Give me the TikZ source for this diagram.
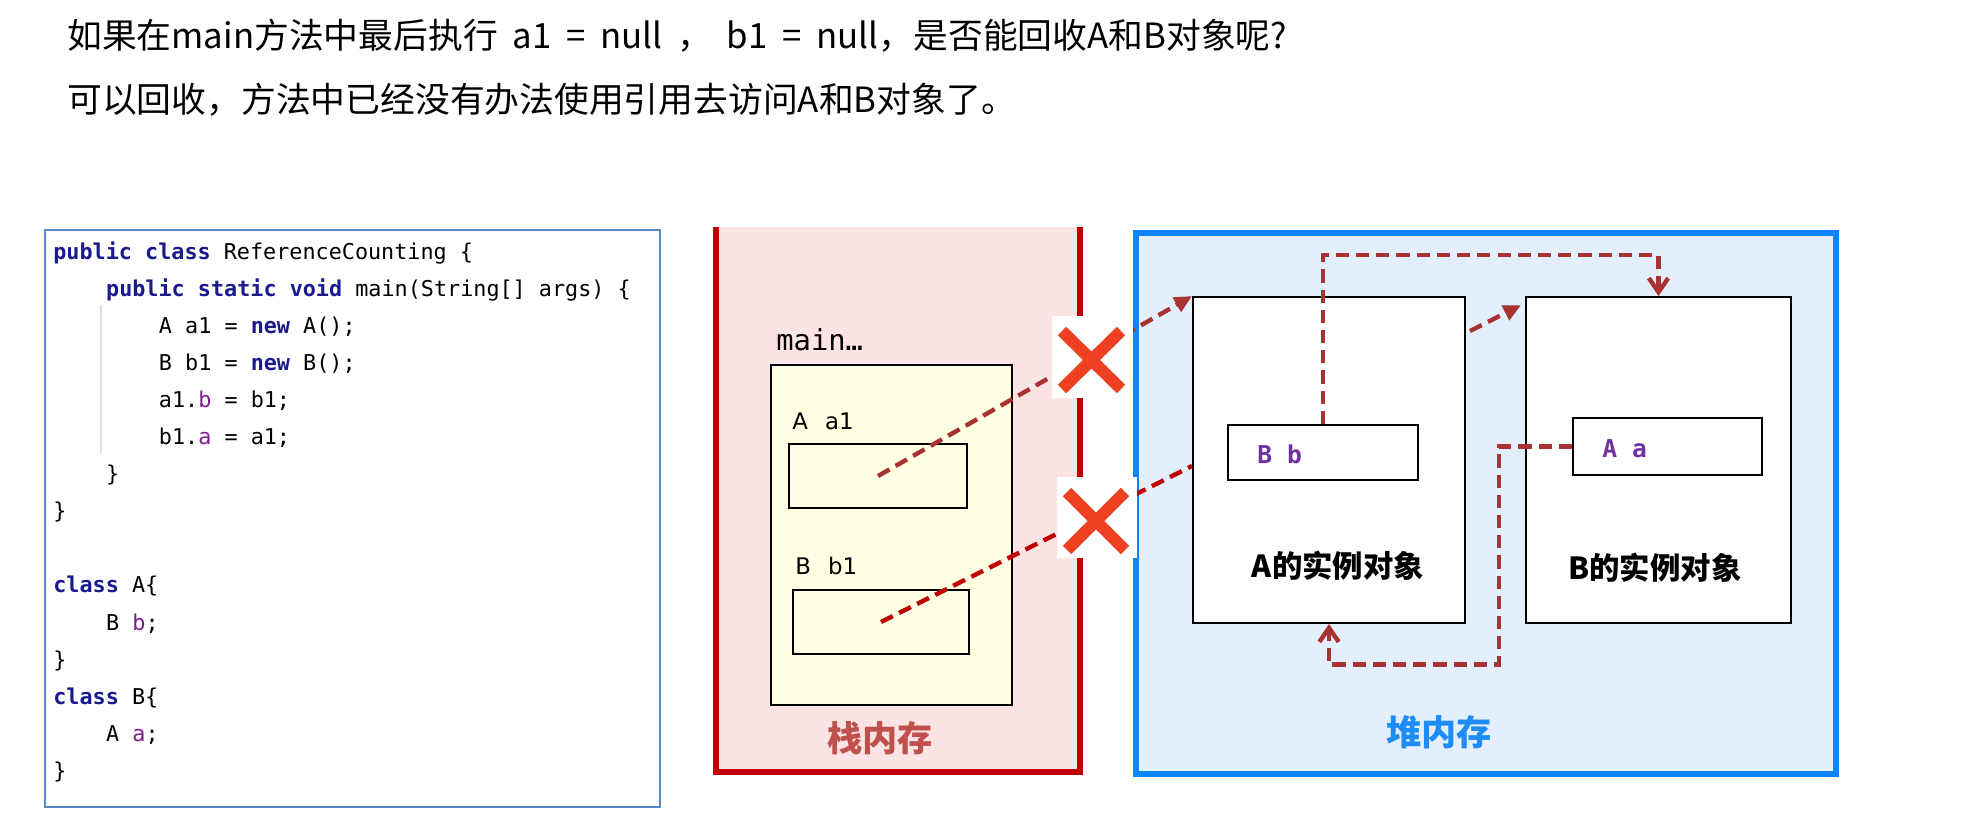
\documentclass[tikz,border=0pt]{standalone}
\usepackage{fontspec}
\setmainfont[WordSpace=1.9]{Noto Sans CJK SC}
\setmonofont{DejaVu Sans Mono}
\newfontfamily\labelfont{DejaVu Sans}
\usetikzlibrary{arrows.meta,calc}

\definecolor{stackpink}{HTML}{FDE4E4}
\definecolor{stackred}{HTML}{C00000}
\definecolor{stacktext}{HTML}{C0504D}
\definecolor{heapfill}{HTML}{E3EFFC}
\definecolor{heapblue}{HTML}{0D84FF}
\definecolor{heaptext}{HTML}{1D8CF8}
\definecolor{framey}{HTML}{FFFFE3}
\definecolor{refbrown}{HTML}{A83232}
\definecolor{xred}{HTML}{EE4122}
\definecolor{codeframe}{HTML}{5B87C5}
\definecolor{kwblue}{HTML}{1A1A8C}
\definecolor{fldpurple}{HTML}{7A1F8C}
\definecolor{varpurple}{HTML}{7030A0}

\newcommand{\kw}[1]{\textcolor{kwblue}{\textbf{#1}}}
\newcommand{\fld}[1]{\textcolor{fldpurple}{#1}}

\tikzset{
  sized/.style 2 args={minimum width=#1*0.02cm, minimum height=#2*0.02cm, inner sep=0pt},
  objbox/.style={draw=black, line width=1.1pt, fill=white},
  refline/.style={line width=2.5pt, dash pattern=on 7.5pt off 4pt},
  xmark/.style={draw=xred, line width=6.8pt},
  codeline/.style={anchor=base west, inner sep=0pt, font=\ttfamily\fontsize{12.4}{15}\selectfont},
}

\begin{document}
\begin{tikzpicture}[x=0.02cm, y=-0.02cm]
\useasboundingbox (0,0) rectangle (1984,836);

% question and answer
\node[anchor=base west, inner sep=0pt, font=\fontsize{19.8}{24}\selectfont] (question) at (67,48)
  {如果在main方法中最后执行 a1 = null ， b1 = null，是否能回收A和B对象呢?};
\node[anchor=base west, inner sep=0pt, font=\fontsize{19.8}{24}\selectfont] (answer) at (67,112)
  {可以回收，方法中已经没有办法使用引用去访问A和B对象了。};

% source code
\node[sized={615}{577}, draw=codeframe, line width=0.85pt] (code) at (352.5,518.5) {};
\draw[gray!25, line width=0.6pt] (101,305) -- (101,453);
\foreach \n/\ind/\txt in {
  1/0/{\kw{public class} ReferenceCounting \{},
  2/1/{\kw{public static void} main(String[] args) \{},
  3/2/{A a1 = \kw{new} A();},
  4/2/{B b1 = \kw{new} B();},
  5/2/{a1.\fld{b} = b1;},
  6/2/{b1.\fld{a} = a1;},
  7/1/{\}},
  8/0/{\}},
  10/0/{\kw{class} A\{},
  11/1/{B \fld{b};},
  12/0/{\}},
  13/0/{\kw{class} B\{},
  14/1/{A \fld{a};},
  15/0/{\}}}
  \node[codeline] (code\n) at ({53+52.8*\ind},{259+37.1*(\n-1)}) {\txt};

% stack
\fill[stackpink] (716,227) rectangle (1080,772);
\draw[stackred, line width=3.4pt] (716,227) -- (716,772) -- (1080,772) -- (1080,227);
\node[anchor=west, inner sep=0pt, font=\ttfamily\fontsize{16.4}{20}\selectfont] (mainlbl) at (776,340) {main…};
\node[sized={241}{340}, draw=black, line width=1.1pt, fill=framey] (frame) at (891.5,535) {};
\node[anchor=west, inner sep=0pt, font=\labelfont\fontsize{13}{16}\selectfont] (a1lbl) at (792,421) {A\hspace{0.75em}a1};
\node[sized={178}{64}, draw=black, line width=1.1pt] (a1box) at (878,476) {};
\node[anchor=west, inner sep=0pt, font=\labelfont\fontsize{13}{16}\selectfont] (b1lbl) at (795,566) {B\hspace{0.75em}b1};
\node[sized={176}{64}, draw=black, line width=1.1pt] (b1box) at (881,622) {};
\node[text=stacktext, font=\bfseries\fontsize{20}{24}\selectfont] (stacklbl) at (880,738) {栈内存};

% heap
\node[sized={700}{541}, draw=heapblue, fill=heapfill, line width=3.4pt] (heap) at (1486,503.5) {};
\node[text=heaptext, font=\bfseries\fontsize{20}{24}\selectfont] (heaplbl) at (1439,732) {堆内存};
\node[objbox, sized={272}{326}] (Aobj) at (1329,460) {};
\node[objbox, sized={265}{326}] (Bobj) at (1658.5,460) {};
\node[font=\bfseries\fontsize{17.3}{21}\selectfont] (Albl) at (1338,566) {A的实例对象};
\node[font=\bfseries\fontsize{17.3}{21}\selectfont] (Blbl) at (1655,568) {B的实例对象};
\node[objbox, sized={190}{55}] (Bb) at (1323,452.5) {};
\node[objbox, sized={189}{57}] (Aa) at (1667.5,446.5) {};
\node[anchor=west, inner sep=0pt, text=varpurple, font=\ttfamily\bfseries\fontsize{14}{17}\selectfont] (Bblbl) at ($(Bb.west)+(30,2)$) {B b};
\node[anchor=west, inner sep=0pt, text=varpurple, font=\ttfamily\bfseries\fontsize{14}{17}\selectfont] (Aalbl) at ($(Aa.west)+(30,2)$) {A a};

% references
\draw[refline, draw=refbrown, -{Triangle[length=10pt,width=9pt]}] (a1box.center) -- (Aobj.north west);
\draw[refline, draw=stackred] (b1box.center) -- ($(Aobj.west)+(0,6)$);
\draw[refline, draw=refbrown, -{Triangle[length=10pt,width=9pt]}] ($(Aobj.north east)+(4,35)$) -- ($(Bobj.north west)+(-4,9)$);
\draw[refline, draw=refbrown, -{Straight Barb[length=8pt,width=11pt]}] (Bb.north) -- ++(0,-169) -| (Bobj.north);
\draw[refline, draw=refbrown, -{Straight Barb[length=8pt,width=11pt]}] (Aa.west) -- ++(-73,0) -- ++(0,218) -| (Aobj.south);

% crosses
\fill[white] (1052,316) rectangle (1133,398);
\draw[xmark] (1062,331) -- (1121,389) (1062,389) -- (1121,331);
\fill[white] (1057,477) rectangle (1137,558);
\draw[xmark] (1067,492) -- (1125,550) (1067,550) -- (1125,492);
\end{tikzpicture}
\end{document}
